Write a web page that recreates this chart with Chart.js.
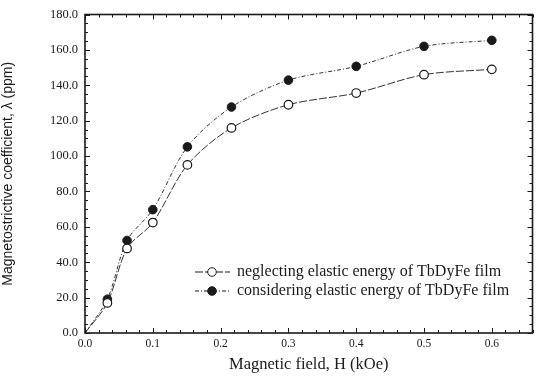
<!DOCTYPE html>
<html>
<head>
<meta charset="utf-8">
<script src="https://cdn.jsdelivr.net/npm/chart.js@4.4.1/dist/chart.umd.min.js"></script>
<style>
  html, body { margin: 0; padding: 0; background: #fff; }
  #wrap { width: 538px; height: 383px; }
</style>
</head>
<body>
<div id="wrap"><canvas id="plot"></canvas></div>
<script>
// magnetic field H (kOe), curves start at the origin
var fieldH = [0, 0.033, 0.062, 0.10, 0.151, 0.216, 0.30, 0.40, 0.50, 0.60];
// lambda (ppm)
var neglecting = [0, 17.0, 47.8, 62.4, 95.0, 115.9, 129.0, 135.6, 146.0, 149.0];
var considering = [0, 19.1, 52.3, 69.7, 105.2, 127.7, 142.9, 150.7, 162.0, 165.4];
var seriesNames = ["neglecting elastic energy of TbDyFe film",
                   "considering elastic energy of TbDyFe film"];
var xTicks = [0, 0.1, 0.2, 0.3, 0.4, 0.5, 0.6];
var yTicks = [0, 20, 40, 60, 80, 100, 120, 140, 160, 180];

function toPoints(xs, ys) {
  var pts = [];
  for (let i = 0; i < xs.length; i++) pts.push({x: xs[i], y: ys[i]});
  return pts;
}
// no marker on the origin point
var radii = fieldH.map(function (h, i) { return i === 0 ? 0 : 4.3; });

var ink = "#1a1a1a";

// inward ticks on all four sides, plus the frame and the legend
var frameTicks = {
  id: "frameTicks",
  afterDatasetsDraw: function (chart) {
    var ctx = chart.ctx, a = chart.chartArea;
    var xs = chart.scales.x, ys = chart.scales.y;
    ctx.save();
    ctx.strokeStyle = ink;
    ctx.lineWidth = 1;
    for (let v = 0; v <= 0.66 + 1e-9; v += 0.02) {
      var major = Math.abs(v * 10 - Math.round(v * 10)) < 1e-6;
      var len = major ? 5 : 3;
      var px = Math.round(xs.getPixelForValue(v)) + 0.5;
      ctx.beginPath();
      ctx.moveTo(px, a.bottom); ctx.lineTo(px, a.bottom - len);
      ctx.moveTo(px, a.top); ctx.lineTo(px, a.top + len);
      ctx.stroke();
    }
    for (let v = 0; v <= 180; v += 5) {
      var len2 = v % 20 === 0 ? 5 : 3;
      var py = Math.round(ys.getPixelForValue(v)) + 0.5;
      ctx.beginPath();
      ctx.moveTo(a.left, py); ctx.lineTo(a.left + len2, py);
      ctx.moveTo(a.right, py); ctx.lineTo(a.right - len2, py);
      ctx.stroke();
    }
    ctx.lineWidth = 1.6;
    ctx.strokeRect(a.left, a.top, a.right - a.left, a.bottom - a.top);

    // legend inside the plot
    var rows = [{y: 272, ds: chart.data.datasets[0]}, {y: 291, ds: chart.data.datasets[1]}];
    ctx.font = "16px 'Liberation Serif', 'DejaVu Serif', serif";
    ctx.textBaseline = "middle";
    rows.forEach(function (r) {
      ctx.lineWidth = 1;
      ctx.setLineDash(r.ds.borderDash);
      ctx.strokeStyle = ink;
      ctx.beginPath();
      ctx.moveTo(195, r.y); ctx.lineTo(230, r.y);
      ctx.stroke();
      ctx.setLineDash([]);
      ctx.beginPath();
      ctx.arc(212, r.y, 4.3, 0, Math.PI * 2);
      ctx.fillStyle = r.ds.pointBackgroundColor;
      ctx.fill();
      ctx.stroke();
      ctx.fillStyle = ink;
      ctx.fillText(r.ds.label, 237, r.y);
    });
    ctx.restore();
  }
};

var chart = new Chart(document.getElementById("plot"), {
  type: "line",
  data: {
    datasets: [{
      label: seriesNames[0],
      data: toPoints(fieldH, neglecting),
      borderColor: "#333",
      borderWidth: 1,
      borderDash: [8, 2],
      pointRadius: radii,
      pointBackgroundColor: "#fff",
      pointBorderColor: ink,
      pointBorderWidth: 1.2,
      tension: 0.3
    }, {
      label: seriesNames[1],
      data: toPoints(fieldH, considering),
      borderColor: "#333",
      borderWidth: 1,
      borderDash: [4, 2, 1, 2],
      pointRadius: radii,
      pointBackgroundColor: ink,
      pointBorderColor: ink,
      pointBorderWidth: 1,
      tension: 0.3
    }]
  },
  options: {
    responsive: true,
    maintainAspectRatio: false,
    animation: false,
    devicePixelRatio: 1,
    layout: { padding: { top: 13, right: 5, left: 0, bottom: 8 } },
    plugins: { legend: { display: false }, tooltip: { enabled: false } },
    scales: {
      x: {
        type: "linear",
        min: 0, max: 0.66,
        afterFit: function (s) { s.height = 42; },
        afterBuildTicks: function (s) { s.ticks = xTicks.map(function (v) { return {value: v}; }); },
        grid: { display: false, drawTicks: false },
        border: { display: false },
        ticks: {
          padding: 4,
          color: ink,
          font: { family: "'Liberation Serif', serif", size: 11.5 },
          callback: function (v) { return v.toFixed(1); }
        },
        title: {
          display: true,
          text: "Magnetic field, H (kOe)",
          color: ink,
          padding: { top: 2, bottom: 0 },
          font: { family: "'Liberation Serif', serif", size: 16.5 }
        }
      },
      y: {
        min: 0, max: 180,
        afterFit: function (s) { s.width = 85; },
        afterBuildTicks: function (s) { s.ticks = yTicks.map(function (v) { return {value: v}; }); },
        grid: { display: false, drawTicks: false },
        border: { display: false },
        ticks: {
          padding: 7,
          color: ink,
          font: { family: "'Liberation Serif', serif", size: 12.5 },
          callback: function (v) { return v.toFixed(1); }
        },
        title: {
          display: true,
          text: "Magnetostrictive coefficient, \u03bb (ppm)",
          color: ink,
          padding: { top: 0, bottom: 4 },
          font: { family: "'Liberation Sans', Arial, sans-serif", size: 14 }
        }
      }
    }
  },
  plugins: [frameTicks]
});
</script>
</body>
</html>
